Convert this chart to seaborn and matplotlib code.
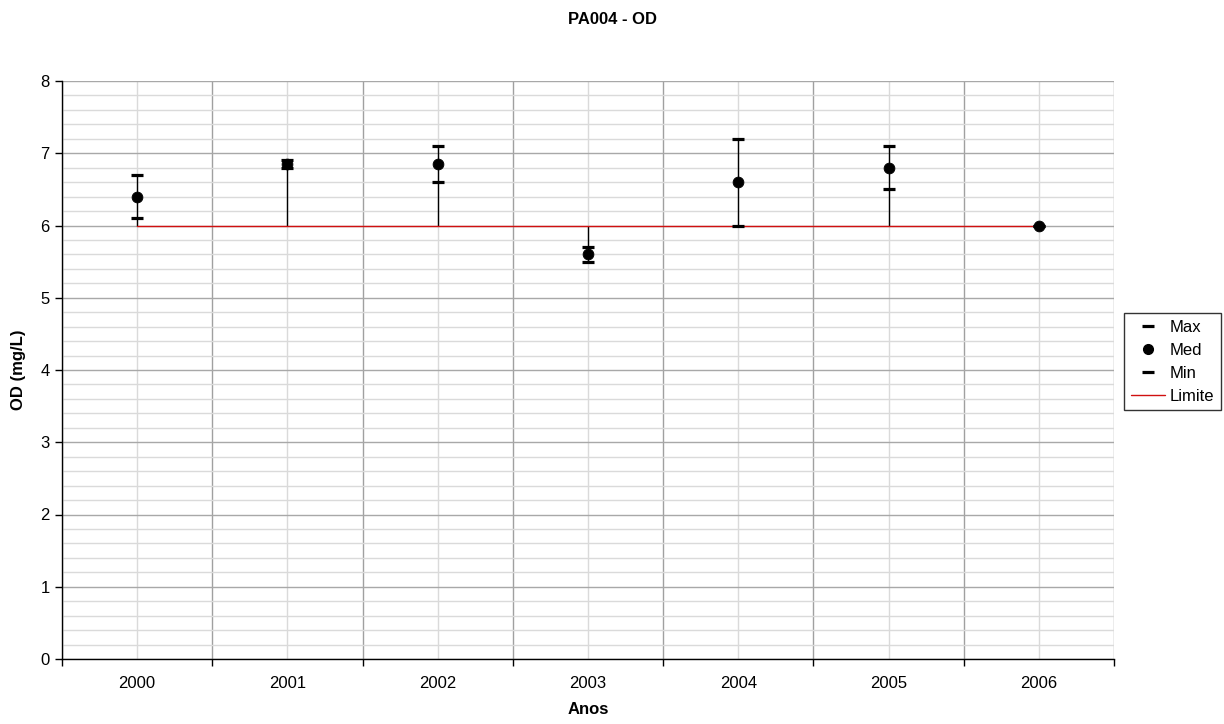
import matplotlib
matplotlib.use("Agg")
import matplotlib.pyplot as plt
import seaborn as sns
import numpy as np
import pandas as pd
from matplotlib.lines import Line2D
from matplotlib.ticker import MultipleLocator, FixedLocator, NullFormatter

years = ["2000", "2001", "2002", "2003", "2004", "2005", "2006"]
max_vals = [6.7, 6.9, 7.1, 5.7, 7.2, 7.1, 6.0]
med_vals = [6.4, 6.85, 6.85, 5.6, 6.6, 6.8, 6.0]
min_vals = [6.1, 6.8, 6.6, 5.5, 6.0, 6.5, 6.0]
limite_vals = [6.0, 6.0, 6.0, 6.0, 6.0, 6.0, 6.0]

sns.set_theme(style="white")
plt.rcParams['font.family'] = ['Liberation Sans', 'DejaVu Sans']
plt.rcParams['text.color'] = 'black'
plt.rcParams['axes.labelcolor'] = 'black'
plt.rcParams['xtick.color'] = 'black'
plt.rcParams['ytick.color'] = 'black'

df = pd.DataFrame({"x": np.arange(len(years)), "Max": max_vals, "Med": med_vals,
                   "Min": min_vals, "Limite": limite_vals})

fig = plt.figure(figsize=(12.24, 7.24), dpi=100)
ax = fig.add_axes([62/1224, 1-659/724, (1114-62)/1224, (659-81)/724])

ax.set_xlim(-0.5, len(years) - 0.5)
ax.set_ylim(0, 8)

# grid
ax.yaxis.set_major_locator(MultipleLocator(1))
ax.yaxis.set_minor_locator(MultipleLocator(0.2))
ax.xaxis.set_major_locator(FixedLocator(np.arange(-0.5, len(years), 1.0)))
ax.xaxis.set_major_formatter(NullFormatter())
ax.set_xticks(np.arange(len(years)), minor=True)
ax.set_xticklabels(years, minor=True)
ax.grid(True, which="minor", axis="y", color="#dadada", lw=1)
ax.grid(True, which="major", axis="y", color="#a8a8a8", lw=1)
ax.grid(True, which="minor", axis="x", color="#dadada", lw=1)
ax.grid(True, which="major", axis="x", color="#a0a0a0", lw=1)
ax.set_axisbelow(True)

# high-low lines
lo = df[["Max", "Min", "Med", "Limite"]].min(axis=1)
hi = df[["Max", "Min", "Med", "Limite"]].max(axis=1)
ax.vlines(df["x"], lo, hi, color="black", lw=1, zorder=2)

sns.lineplot(data=df, x="x", y="Limite", color="#d01010", lw=1, ax=ax, zorder=3, legend=False)
ax.plot(df["x"], df["Max"], ls="none", marker="_", ms=8, mew=2.3, color="black", zorder=4)
ax.plot(df["x"], df["Min"], ls="none", marker="_", ms=8, mew=2.3, color="black", zorder=4)
sns.scatterplot(data=df, x="x", y="Med", color="black", s=60, edgecolor="black", ax=ax, zorder=5, legend=False)

for s in ["top", "right"]:
    ax.spines[s].set_visible(False)
ax.spines["left"].set_color("black")
ax.spines["bottom"].set_color("black")
ax.spines["left"].set_linewidth(1)
ax.spines["bottom"].set_linewidth(1)

ax.tick_params(axis="x", which="major", direction="out", length=5, color="black", width=1, bottom=True)
ax.tick_params(axis="x", which="minor", length=0, labelsize=12, pad=12, labelcolor="black")
ax.tick_params(axis="y", which="major", direction="out", length=5, color="black", width=1, left=True,
               labelsize=12, pad=4, labelcolor="black")
ax.tick_params(axis="y", which="minor", length=0)

ax.set_xlabel("Anos", fontsize=12, fontweight="bold", labelpad=8, color="black")
ax.set_ylabel("OD (mg/L)", fontsize=12, fontweight="bold", labelpad=10, color="black")
fig.text(0.5, 1 - 19/724, "PA004 - OD", ha="center", va="center", fontsize=12, fontweight="bold", color="black")

handles = [
    Line2D([], [], ls="none", marker="_", ms=8, mew=2.3, color="black"),
    Line2D([], [], ls="none", marker="o", ms=7, color="black"),
    Line2D([], [], ls="none", marker="_", ms=8, mew=2.3, color="black"),
    Line2D([], [], color="#d01010", lw=1),
]
leg = fig.legend(handles, ["Max", "Med", "Min", "Limite"], loc="upper left",
                 bbox_to_anchor=(1124/1224, 1 - 313/724), frameon=True, fancybox=False,
                 fontsize=12, handlelength=2.05, handletextpad=0.3, borderpad=0.4,
                 labelspacing=0.48, borderaxespad=0)
leg.get_frame().set_edgecolor("black")
leg.get_frame().set_linewidth(1)
for t in leg.get_texts():
    t.set_color("black")

fig.savefig("out.png", dpi=100)
